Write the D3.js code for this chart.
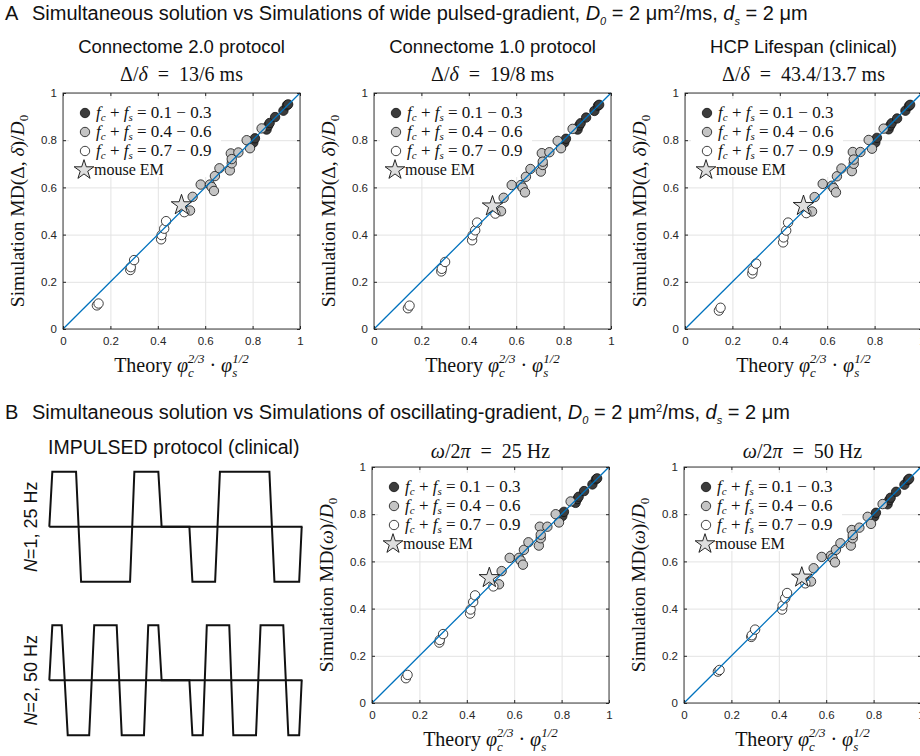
<!DOCTYPE html>
<html>
<head>
<meta charset="utf-8">
<script src="https://cdn.jsdelivr.net/npm/d3@7"></script>
<style>
  body { margin: 0; background: #fff; }
  svg { display: block; }
  .tick text { font-family: "Liberation Sans", Arial, sans-serif; font-size: 11.5px; fill: #262626; }
</style>
</head>
<body>
<div id="wrapper"></div>
<script>
// ---- data ----
const tickValues = [0, 0.2, 0.4, 0.6, 0.8, 1];

// group 3 = fc+fs 0.7-0.9 (open), 2 = 0.4-0.6 (gray), 1 = 0.1-0.3 (black)
const groups = [3,3,3,3,3,3,3,3,3,3, 2,2,2,2,2,2,2,2,2,2,2,2,2,2,2,2, 1,1,1,1,1,1,1,1,1];
const theory = [.143,.150,.284,.286,.300,.414,.416,.427,.435,.512,
  .536,.547,.581,.620,.627,.637,.641,.660,.704,.708,.712,.712,.740,.775,.789,.838,
  .803,.810,.859,.866,.872,.895,.930,.945,.950];

const simConnectome2 = [.100,.108,.250,.262,.292,.380,.398,.425,.457,.495,
  .502,.560,.612,.612,.602,.585,.648,.681,.672,.744,.702,.720,.748,.800,.766,.850,
  .790,.808,.845,.862,.873,.898,.925,.948,.952];
const simConnectome1 = [.088,.099,.244,.255,.284,.376,.397,.418,.451,.489,
  .499,.556,.610,.610,.599,.579,.645,.678,.667,.745,.695,.709,.749,.797,.766,.848,
  .790,.806,.845,.862,.872,.896,.924,.946,.950];
const simHCP = [.078,.090,.235,.249,.277,.367,.388,.417,.451,.491,
  .498,.559,.615,.607,.597,.579,.647,.680,.669,.750,.700,.718,.750,.801,.764,.849,
  .790,.810,.846,.862,.872,.892,.925,.945,.950];
const sim25Hz = [.105,.119,.256,.267,.292,.379,.396,.428,.456,.494,
  .503,.559,.615,.615,.604,.586,.649,.681,.667,.747,.698,.713,.747,.800,.765,.854,
  .792,.810,.848,.864,.874,.898,.926,.948,.952];
const sim50Hz = [.133,.140,.280,.287,.311,.396,.413,.444,.466,.507,
  .515,.571,.619,.624,.614,.596,.649,.677,.667,.733,.698,.712,.743,.789,.759,.843,
  .790,.806,.842,.860,.870,.895,.925,.945,.950];

// mouse EM star [theory, simulation]
const starConnectome2 = [0.50, 0.525];
const starConnectome1 = [0.50, 0.520];
const starHCP = [0.50, 0.522];
const star25Hz = [0.495, 0.530];
const star50Hz = [0.497, 0.532];

const legendRanges = ["0.1 − 0.3", "0.4 − 0.6", "0.7 − 0.9"];

// IMPULSED waveforms (time in arbitrary units, amplitude -1..1)
const wave1T = [0,1.2,10.6,12.6,32.0,33.7,43.2,44.5,55.5,56.7,65.7,67.6,87.2,89.2,99.0,100];
const wave1A = [0,1,1,-1,-1,1,1,0,0,-1,-1,1,1,-1,-1,0];
const wave2T = [0,1.2,4.9,7.3,15.8,17.8,26.7,28.7,37.5,39.2,43.2,44.5,55.5,56.7,60.8,62.4,71.3,72.9,81.9,83.7,92.7,94.7,99.0,100];
const wave2A = [0,1,1,-1,-1,1,1,-1,-1,1,1,0,0,-1,-1,1,1,-1,-1,1,1,-1,-1,0];

// ---- layout ----
const width = 920, height = 756;
const W = 237, H = 236;
const serif = '"Liberation Serif", "Times New Roman", serif';
const sans = '"Liberation Sans", Arial, sans-serif';
const fillColor = {1: "#3c3c3c", 2: "#c4c4c4", 3: "#ffffff"};
const eq = "\u2002=\u2002";

const svg = d3.select("#wrapper").append("svg")
    .attr("width", width)
    .attr("height", height);

// headers with D0 and ds
function header(y, letter, text) {
    const t = svg.append("text")
        .attr("x", 5).attr("y", y)
        .style("font-family", sans).style("font-size", "20px").style("fill", "#111");
    t.append("tspan").text(letter);
    t.append("tspan").attr("x", 32).text(text + ", ");
    t.append("tspan").style("font-style", "italic").text("D");
    t.append("tspan").style("font-style", "italic").style("font-size", "11px").attr("dy", 5).text("0");
    t.append("tspan").attr("dy", -5).text(" = 2 μm");
    t.append("tspan").style("font-size", "11px").attr("dy", -7).text("2");
    t.append("tspan").attr("dy", 7).text("/ms, ");
    t.append("tspan").style("font-style", "italic").text("d");
    t.append("tspan").style("font-style", "italic").style("font-size", "11px").attr("dy", 5).text("s");
    t.append("tspan").attr("dy", -5).text(" = 2 μm");
}
header(20, "A", "Simultaneous solution vs Simulations of wide pulsed-gradient");
header(419, "B", "Simultaneous solution vs Simulations of oscillating-gradient");

function drawPanel(cfg) {
    const g = svg.append("g").attr("transform", `translate(${cfg.x0},${cfg.y0})`);
    const x = d3.scaleLinear().domain([0, 1]).range([0, W]);
    const y = d3.scaleLinear().domain([0, 1]).range([H, 0]);

    // grid
    g.append("g").attr("transform", `translate(0,${H})`)
        .call(d3.axisBottom(x).tickValues(tickValues).tickSize(-H).tickFormat(""))
        .call(a => a.select(".domain").remove())
        .call(a => a.selectAll("line").attr("stroke", "#e3e3e3"));
    g.append("g")
        .call(d3.axisLeft(y).tickValues(tickValues).tickSize(-W).tickFormat(""))
        .call(a => a.select(".domain").remove())
        .call(a => a.selectAll("line").attr("stroke", "#e3e3e3"));

    // legend background (drawn before marks so nothing gets hidden)
    g.append("rect").attr("x", 6).attr("y", 6).attr("width", 152).attr("height", 78).attr("fill", "#fff");

    // points
    const idx = d3.range(theory.length).sort((a, b) => groups[a] - groups[b]);
    g.append("g").selectAll("circle")
        .data(idx)
        .join("circle")
        .attr("cx", i => x(theory[i]))
        .attr("cy", i => y(cfg.sim[i]))
        .attr("r", 4.7)
        .attr("fill", i => fillColor[groups[i]])
        .attr("stroke", "#111")
        .attr("stroke-width", 0.8);

    // identity line
    g.append("line")
        .attr("x1", x(0)).attr("y1", y(0))
        .attr("x2", x(1)).attr("y2", y(1))
        .attr("stroke", "#0072BD").attr("stroke-width", 1.3);

    const star = d3.symbol().type(d3.symbolStar).size(130);
    g.append("path")
        .attr("d", star)
        .attr("transform", `translate(${x(cfg.star[0])},${y(cfg.star[1])})`)
        .attr("fill", "#dedede").attr("stroke", "#111").attr("stroke-width", 0.9);

    // axes with inward ticks on all sides
    const axStyle = a => {
        a.select(".domain").remove();
        a.selectAll("line").attr("stroke", "#262626");
    };
    g.append("g").attr("transform", `translate(0,${H})`)
        .call(d3.axisBottom(x).tickValues(tickValues).tickSizeInner(-3).tickSizeOuter(0).tickPadding(8).tickFormat(d3.format("~g")))
        .call(axStyle);
    g.append("g")
        .call(d3.axisLeft(y).tickValues(tickValues).tickSizeInner(-3).tickSizeOuter(0).tickPadding(6).tickFormat(d3.format("~g")))
        .call(axStyle);
    g.append("g")
        .call(d3.axisTop(x).tickValues(tickValues).tickSizeInner(-3).tickSizeOuter(0).tickFormat(""))
        .call(axStyle);
    g.append("g").attr("transform", `translate(${W},0)`)
        .call(d3.axisRight(y).tickValues(tickValues).tickSizeInner(-3).tickSizeOuter(0).tickFormat(""))
        .call(axStyle);
    g.append("rect").attr("width", W).attr("height", H)
        .attr("fill", "none").attr("stroke", "#262626").attr("stroke-width", 0.9);

    // legend
    const lg = g.append("g");
    [1, 2, 3].forEach((grp, k) => {
        const ly = 20 + k * 19;
        lg.append("circle").attr("cx", 22).attr("cy", ly).attr("r", 4.7)
            .attr("fill", fillColor[grp]).attr("stroke", "#111").attr("stroke-width", 0.8);
        const t = lg.append("text").attr("x", 33).attr("y", ly + 5)
            .style("font-family", serif).style("font-size", "17px").style("fill", "#111");
        t.append("tspan").style("font-style", "italic").text("f");
        t.append("tspan").style("font-style", "italic").style("font-size", "11px").attr("dy", 3).text("c");
        t.append("tspan").attr("dy", -3).text(" + ");
        t.append("tspan").style("font-style", "italic").text("f");
        t.append("tspan").style("font-style", "italic").style("font-size", "11px").attr("dy", 3).text("s");
        t.append("tspan").attr("dy", -3).text(" = " + legendRanges[k]);
    });
    lg.append("path").attr("d", d3.symbol().type(d3.symbolStar).size(120))
        .attr("transform", "translate(21,77)")
        .attr("fill", "#dedede").attr("stroke", "#111").attr("stroke-width", 0.9);
    lg.append("text").attr("x", 31).attr("y", 82)
        .style("font-family", serif).style("font-size", "16px").style("fill", "#111")
        .text("mouse EM");

    // x label
    const xl = g.append("text").attr("x", W / 2).attr("y", H + 43)
        .attr("text-anchor", "middle")
        .style("font-family", serif).style("font-size", "20px").style("fill", "#111");
    xl.append("tspan").text("Theory ");
    xl.append("tspan").style("font-style", "italic").text("φ");
    xl.append("tspan").style("font-style", "italic").style("font-size", "13px").attr("dy", 5).text("c");
    xl.append("tspan").style("font-style", "italic").style("font-size", "13px").attr("dy", -14).attr("dx", -6).text("2/3");
    xl.append("tspan").attr("dy", 9).text(" · ");
    xl.append("tspan").style("font-style", "italic").text("φ");
    xl.append("tspan").style("font-style", "italic").style("font-size", "13px").attr("dy", 5).text("s");
    xl.append("tspan").style("font-style", "italic").style("font-size", "13px").attr("dy", -14).attr("dx", -5).text("1/2");

    // y label
    const yl = g.append("text")
        .attr("transform", `translate(-39,${H / 2}) rotate(-90)`)
        .attr("text-anchor", "middle")
        .style("font-family", serif).style("font-size", "19.5px").style("fill", "#111");
    yl.append("tspan").text("Simulation MD(");
    if (cfg.osc) {
        yl.append("tspan").style("font-style", "italic").text("ω");
    } else {
        yl.append("tspan").text("Δ, ");
        yl.append("tspan").style("font-style", "italic").text("δ");
    }
    yl.append("tspan").text(")/");
    yl.append("tspan").style("font-style", "italic").text("D");
    yl.append("tspan").style("font-size", "13px").attr("dy", 4).text("0");

    // titles
    if (cfg.title) {
        g.append("text").attr("x", W / 2).attr("y", -40).attr("text-anchor", "middle")
            .style("font-family", sans).style("font-size", "18.5px").style("fill", "#111")
            .text(cfg.title);
    }
    const st = g.append("text").attr("x", W / 2).attr("y", cfg.osc ? -9 : -12).attr("text-anchor", "middle")
        .style("font-family", serif).style("font-size", "20px").style("fill", "#111");
    if (cfg.osc) {
        st.append("tspan").style("font-style", "italic").text("ω");
        st.append("tspan").text("/2");
        st.append("tspan").style("font-style", "italic").text("π");
        st.append("tspan").text(eq + cfg.sub);
    } else {
        st.append("tspan").text("Δ/");
        st.append("tspan").style("font-style", "italic").text("δ");
        st.append("tspan").text(eq + cfg.sub);
    }
}

drawPanel({x0: 63, y0: 93, sim: simConnectome2, star: starConnectome2, title: "Connectome 2.0 protocol", sub: "13/6 ms"});
drawPanel({x0: 374, y0: 93, sim: simConnectome1, star: starConnectome1, title: "Connectome 1.0 protocol", sub: "19/8 ms"});
drawPanel({x0: 685, y0: 93, sim: simHCP, star: starHCP, title: "HCP Lifespan (clinical)", sub: "43.4/13.7 ms"});
drawPanel({x0: 372, y0: 467, sim: sim25Hz, star: star25Hz, osc: true, sub: "25 Hz"});
drawPanel({x0: 684, y0: 467, sim: sim50Hz, star: star50Hz, osc: true, sub: "50 Hz"});

// ---- IMPULSED waveforms ----
svg.append("text").attr("x", 48).attr("y", 454)
    .style("font-family", sans).style("font-size", "19.5px").style("fill", "#111")
    .text("IMPULSED protocol (clinical)");

function drawWave(T, A, top, label1, label2) {
    const x = d3.scaleLinear().domain([0, 100]).range([49.3, 301.7]);
    const y = d3.scaleLinear().domain([-1, 1]).range([top + 110, top]);
    svg.append("line").attr("x1", x(0)).attr("x2", x(100.3))
        .attr("y1", y(0)).attr("y2", y(0))
        .attr("stroke", "#111").attr("stroke-width", 2);
    svg.append("path")
        .datum(d3.range(T.length))
        .attr("d", d3.line().x(i => x(T[i])).y(i => y(A[i])))
        .attr("fill", "none").attr("stroke", "#111").attr("stroke-width", 2)
        .attr("stroke-linejoin", "miter");
    const t = svg.append("text")
        .attr("transform", `translate(37,${y(0)}) rotate(-90)`)
        .attr("text-anchor", "middle")
        .style("font-family", sans).style("font-size", "18px").style("fill", "#111");
    t.append("tspan").style("font-style", "italic").text("N");
    t.append("tspan").text(label1 + ", " + label2);
}
drawWave(wave1T, wave1A, 471.7, "=1", "25 Hz");
drawWave(wave2T, wave2A, 625.3, "=2", "50 Hz");
</script>
</body>
</html>
